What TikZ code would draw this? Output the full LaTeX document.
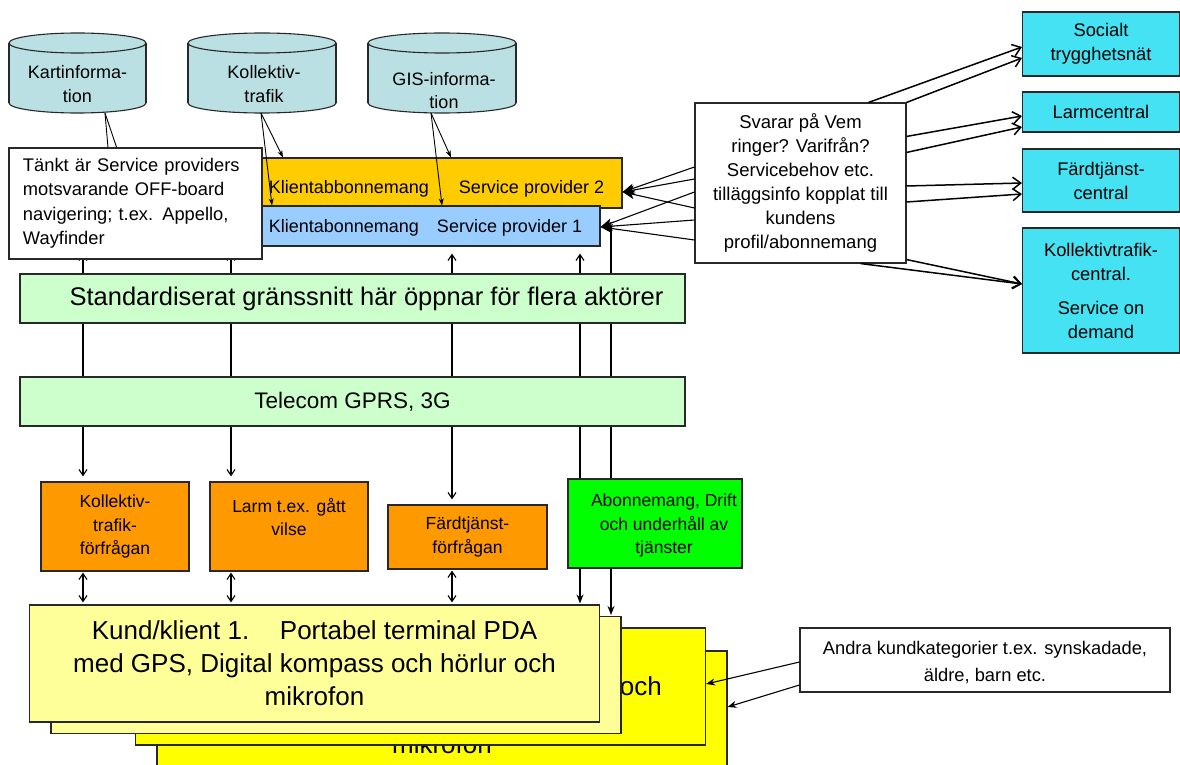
\documentclass[tikz,border=0pt]{standalone}
\usepackage{fontspec}
\setmainfont{Liberation Sans}
\usetikzlibrary{arrows.meta}
\definecolor{cylf}{RGB}{187,224,228}
\definecolor{spy}{RGB}{255,204,0}
\definecolor{spb}{RGB}{153,204,255}
\definecolor{lgr}{RGB}{204,255,204}
\definecolor{org}{RGB}{255,153,0}
\definecolor{grn}{RGB}{0,255,0}
\definecolor{cyn}{RGB}{68,226,242}
\definecolor{ly}{RGB}{255,255,153}
\definecolor{yy}{RGB}{255,255,0}
\definecolor{bd}{RGB}{40,40,40}
\newcommand{\fsz}[2]{\fontsize{#1}{#2}\selectfont}
\newcommand{\dbcyl}[4]{%
  \pgfmathsetmacro\cxa{(#1+#2)/2}\pgfmathsetmacro\rxa{(#2-#1)/2}%
  \filldraw[fill=cylf,draw=bd,line width=1.1pt] ({\cxa},{#4-10}) ellipse[x radius=\rxa, y radius=10];
  \fill[cylf] ({#1},{#3+10}) rectangle ({#2},{#4-10});
  \draw[bd,line width=1.1pt] ({#1},{#3+10}) -- ({#1},{#4-10}) ({#2},{#3+10}) -- ({#2},{#4-10});
  \filldraw[fill=cylf,draw=bd,line width=1.1pt] ({\cxa},{#3+10}) ellipse[x radius=\rxa, y radius=10];
}
\tikzset{
  vb/.tip={Straight Barb[length=6pt,width=8pt]},
  rb/.tip={Straight Barb[length=8pt,width=12pt]},
  fb/.tip={Stealth[length=12pt,width=9pt,inset=3pt]},
  sb/.tip={Stealth[length=7pt,width=5pt,inset=2pt]},
  box/.style={draw=bd,line width=1.1pt,inner sep=0pt,align=center,text=black},
  txt/.style={inner sep=0pt,align=center,text=black},
  ln/.style={line width=1.1pt,draw=black},
  cl/.style={line width=0.9pt,draw=black,-sb},
  ra/.style={line width=1.5pt,draw=black,-rb},
  rbox/.style={box,fill=cyn,minimum width=157,font=\fsz{18.3}{24}},
  kund/.style={box,minimum width=570,minimum height=117,font=\fsz{26}{33}},
  obox/.style={box,fill=org,font=\fsz{17.5}{23.5}},
  midbox/.style={box,fill=lgr,minimum width=665,minimum height=49},
}
\begin{document}
\begin{tikzpicture}[x=1pt,y=-1pt]
\fill[white] (0,0) rectangle (1180,765);
\useasboundingbox (0,0) rectangle (1180,765);

% databases
\dbcyl{9}{146}{33}{113}
\dbcyl{188}{336}{33}{113}
\dbcyl{368}{516}{33}{113}
\node[txt,font=\fsz{18}{24}] (kart) at (77.5,84.5) {Kartinforma-\\tion};
\node[txt,font=\fsz{18}{24}] (koll) at (264,84.5) {Kollektiv-\\trafik};
\node[txt,font=\fsz{18}{23}] (gis) at (444,90.5) {GIS-informa-\\tion};
\coordinate (kb) at (105,113);
\coordinate (ob) at (261,113);
\coordinate (gb) at (431,113);

% service provider boxes
\node[box,fill=spy,minimum width=582,minimum height=50] (sp2) at (331,183) {};
\node[box,fill=spb,minimum width=580,minimum height=40] (sp1) at (310,226) {};
\node[txt,font=\fsz{18}{22}] (sp2t) at (436.5,189) {Klientabbonnemang\hspace{30pt}Service provider 2};
\node[txt,font=\fsz{18}{22}] (sp1t) at (425.5,228) {Klientabonnemang\hspace{18pt}Service provider 1};

\draw[cl] (kb) -- ([xshift=15pt]kb |- sp2.north);
\draw[cl] (kb) -- ([xshift=8pt]kb |- sp1.north);
\draw[cl] (ob) -- ([xshift=22pt]ob |- sp2.north);
\draw[cl] (ob) -- ([xshift=11pt]ob |- sp1.north);
\draw[cl] (gb) -- ([xshift=20pt]gb |- sp2.north);
\draw[cl] (gb) -- ([xshift=11pt]gb |- sp1.north);

% columns
\coordinate (c1) at (83,0);
\coordinate (c2) at (231,0);
\coordinate (c3) at (452,0);
\coordinate (c4) at (580,0);
\coordinate (c5) at (611,0);

% lower boxes
\node[obox,minimum width=148,minimum height=89] (ok1) at (115,526.5) {Kollektiv-\\trafik-\\förfrågan};
\node[obox,minimum width=158,minimum height=89] (ok2) at (289,526.5) {};
\node[txt,font=\fsz{17.5}{23.5}] (ok2t) at (289,517) {Larm t.ex. gått\\vilse};
\node[obox,minimum width=159,minimum height=64] (ok3) at (467.5,537) {Färdtjänst-\\förfrågan};
\node[box,fill=grn,minimum width=174,minimum height=89] (abo) at (655,523.5) {};
\node[txt,font=\fsz{17.5}{23.5}] (abot) at (664,525.5) {Abonnemang, Drift\\och underhåll av\\tjänster};

% vertical connectors (drawn behind the two interface bars)
\draw[ln,vb-vb] ([yshift=-7pt]c1 |- sp1.south) -- ([yshift=5pt]c1 |- ok1.north);
\draw[ln,vb-vb] ([yshift=-7pt]c2 |- sp1.south) -- ([yshift=5pt]c2 |- ok2.north);
\draw[ln,vb-vb] ([yshift=-7pt]c3 |- sp1.south) -- ([yshift=5pt]c3 |- ok3.north);
\draw[ln,vb-] ([yshift=-7pt]c4 |- sp1.south) -- (c4 |- abo.north);
\draw[ln] ([yshift=-1pt]c5 |- sp1.east) -- (c5 |- abo.north);

% interface bars
\node[midbox,font=\fsz{25.5}{30}] (std) at (352.5,298.5) {\hspace*{28pt}Standardiserat gränssnitt här öppnar för flera aktörer};
\node[midbox,font=\fsz{22.5}{27}] (tel) at (352.5,401.5) {Telecom GPRS, 3G};

% Tänkt box
\node[box,fill=white,minimum width=253,minimum height=111,text width=225,align=left,font=\fsz{18.3}{24.5}] (tankt) at (135.5,203.5) {Tänkt är Service providers\\motsvarande OFF-board\\navigering; t.ex. Appello,\\Wayfinder};

% client boxes
\node[kund,fill=yy] (k4) at (442,709.5) {Kund/klient 1.\hspace{21pt} Portabel terminal PDA\\med GPS, Digital kompass och hörlur och\\[4pt]mikrofon};
\node[kund,fill=yy] (k3) at (420.5,686.5) {Kund/klient 1.\hspace{21pt} Portabel terminal PDA\rule{50pt}{0pt}\\med GPS, Digital kompass och hörlur och\\mikrofon};
\node[kund,fill=ly] (k2) at (336,675) {Kund/klient 1.\hspace{21pt} Portabel terminal PDA\\med GPS, Digital kompass och hörlur och\\mikrofon};
\node[kund,fill=ly] (k1) at (314.5,663.5) {Kund/klient 1.\hspace{21pt} Portabel terminal PDA\\med GPS, Digital kompass och hörlur och\\mikrofon};

\draw[ln,vb-vb] ([yshift=-1pt]c1 |- ok1.south) -- ([yshift=2pt]c1 |- k1.north);
\draw[ln,vb-vb] ([yshift=-1pt]c2 |- ok2.south) -- ([yshift=2pt]c2 |- k1.north);
\draw[ln,vb-vb] ([yshift=-1pt]c3 |- ok3.south) -- ([yshift=2pt]c3 |- k1.north);
\draw[ln,-{Stealth[length=9pt,width=7pt]}] (c4 |- abo.south) -- ([yshift=1pt]c4 |- k1.north);
\draw[ln,-{Stealth[length=9pt,width=7pt]}] (c5 |- abo.south) -- ([yshift=1pt]c5 |- k2.north);

% Svarar box and right side
\node[box,fill=white,minimum width=211,minimum height=160,font=\fsz{18.5}{24}] (svar) at (800.5,183) {Svarar på Vem\\ringer? Varifrån?\\Servicebehov etc.\\tilläggsinfo kopplat till\\kundens\\profil/abonnemang};

\draw[ln,-fb] ([yshift=16pt]svar.west) -- ([yshift=-9pt]sp2.east);
\draw[ln,-fb] ([yshift=4pt]svar.west) -- ([yshift=-9pt]sp2.east);
\draw[ln,-fb] ([yshift=-25pt]svar.west) -- ([yshift=-9pt]sp2.east);
\draw[ln,-fb] ([yshift=-9pt]svar.west) -- ([yshift=-1pt]sp1.east);
\draw[ln,-fb] ([yshift=-37pt]svar.west) -- ([yshift=-1pt]sp1.east);
\draw[ln,-fb] ([yshift=-57pt]svar.west) -- ([yshift=-1pt]sp1.east);

\node[rbox,minimum height=64] (soc) at (1101,44) {Socialt\\trygghetsnät};
\node[rbox,minimum height=40] (larm) at (1101,112) {Larmcentral};
\node[rbox,minimum height=63] (fc) at (1101,180.5) {Färdtjänst-\\central};
\node[rbox,minimum height=125] (kc) at (1101,290.5) {Kollektivtrafik-\\central.\\[10pt]Service on\\demand};

\draw[ra] ([xshift=-38pt]svar.north east) -- ([yshift=-3pt]soc.west);
\draw[ra] (svar.north east) -- ([yshift=-14pt]soc.west);
\draw[ra] ([yshift=-34pt]svar.north east) -- ([yshift=-4pt]larm.west);
\draw[ra] ([yshift=-50pt]svar.north east) -- ([yshift=-15pt]larm.west);
\draw[ra] ([yshift=-3pt]svar.east) -- ([yshift=-2.5pt]fc.west);
\draw[ra] ([yshift=-19pt]svar.east) -- ([yshift=-13.5pt]fc.west);
\draw[ra] ([yshift=4pt]svar.south east) -- ([yshift=6.5pt]kc.west);
\draw[ra] ([xshift=-46pt]svar.south east) -- ([yshift=6.5pt]kc.west);

% other customer categories
\node[box,fill=white,minimum width=370,minimum height=64] (andra) at (985,660) {};
\node[txt,font=\fsz{18.3}{27}] (andrat) at (985,663) {Andra kundkategorier t.ex. synskadade,\\äldre, barn etc.};
\draw[ln,-{Stealth[length=9pt,width=7pt]}] ([yshift=-2pt]andra.west) -- ([yshift=2.5pt]k3.east);
\draw[ln,-{Stealth[length=9pt,width=7pt]}] ([yshift=-25pt]andra.west) -- ([yshift=2.5pt]k4.east);
\end{tikzpicture}
\end{document}
